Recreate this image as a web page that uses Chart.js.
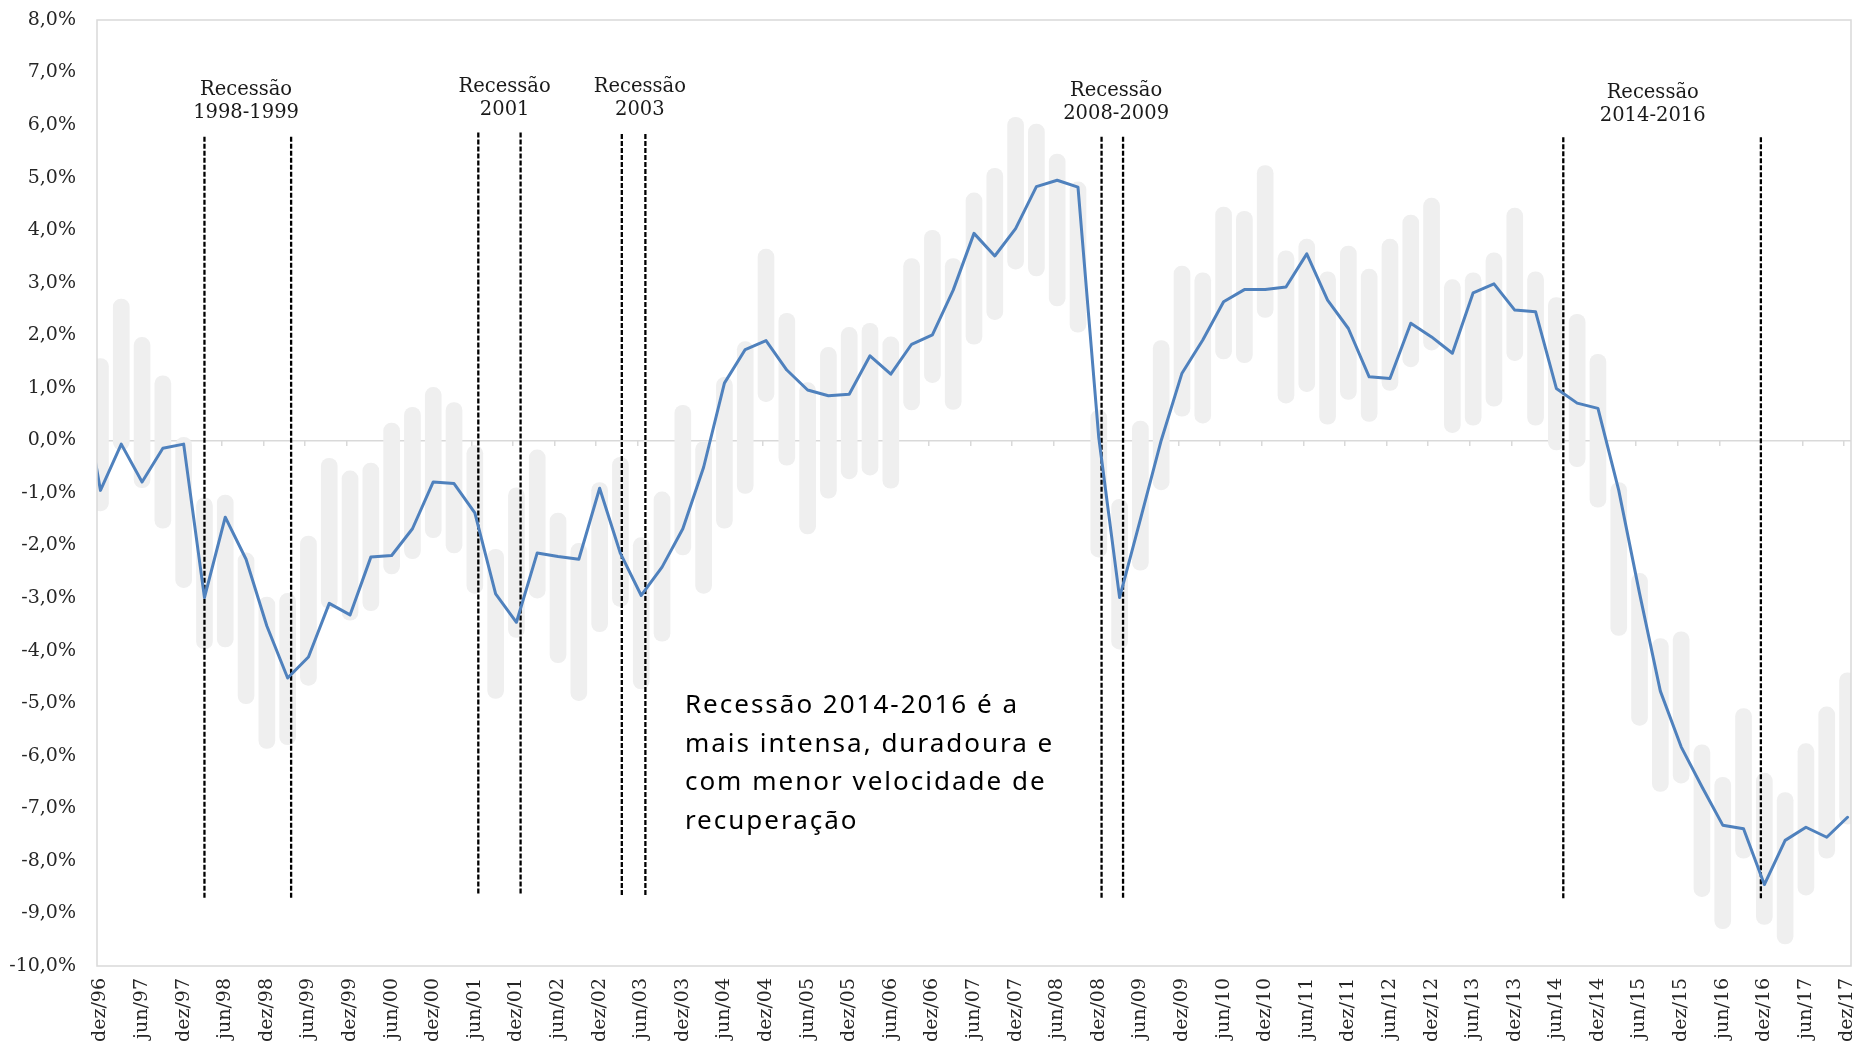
<!DOCTYPE html>
<html>
<head>
<meta charset="utf-8">
<script src="https://cdn.jsdelivr.net/npm/chart.js@4.4.1/dist/chart.umd.min.js"></script>
<style>
  html, body { margin: 0; padding: 0; background: #ffffff; }
  #wrap { width: 1858px; height: 1041px; position: relative; }
</style>
</head>
<body>
<div id="wrap"><canvas id="chart"></canvas></div>
<script>
// ---------------- DATA ----------------
// Quarterly observations (first one, set/96, lies just outside the axis and is clipped)
const quarters = [
  'set/96','dez/96',
  'mar/97','jun/97','set/97','dez/97',
  'mar/98','jun/98','set/98','dez/98',
  'mar/99','jun/99','set/99','dez/99',
  'mar/00','jun/00','set/00','dez/00',
  'mar/01','jun/01','set/01','dez/01',
  'mar/02','jun/02','set/02','dez/02',
  'mar/03','jun/03','set/03','dez/03',
  'mar/04','jun/04','set/04','dez/04',
  'mar/05','jun/05','set/05','dez/05',
  'mar/06','jun/06','set/06','dez/06',
  'mar/07','jun/07','set/07','dez/07',
  'mar/08','jun/08','set/08','dez/08',
  'mar/09','jun/09','set/09','dez/09',
  'mar/10','jun/10','set/10','dez/10',
  'mar/11','jun/11','set/11','dez/11',
  'mar/12','jun/12','set/12','dez/12',
  'mar/13','jun/13','set/13','dez/13',
  'mar/14','jun/14','set/14','dez/14',
  'mar/15','jun/15','set/15','dez/15',
  'mar/16','jun/16','set/16','dez/16',
  'mar/17','jun/17','set/17','dez/17'
];

// Blue line (%)
const lineValues = [
  1.30, -0.95,
  -0.07, -0.79, -0.15, -0.07,
  -2.99, -1.46, -2.26, -3.53,
  -4.52, -4.12, -3.10, -3.32,
  -2.22, -2.19, -1.68, -0.79,
  -0.82, -1.38, -2.92, -3.46,
  -2.14, -2.21, -2.26, -0.91,
  -2.15, -2.95, -2.41, -1.68,
  -0.51, 1.09, 1.73, 1.90,
  1.34, 0.96, 0.85, 0.88,
  1.61, 1.26, 1.83, 2.01,
  2.86, 3.94, 3.51, 4.03,
  4.83, 4.95, 4.82, 0.05,
  -2.99, -1.50, 0.00, 1.28,
  1.91, 2.64, 2.87, 2.87,
  2.92, 3.55, 2.67, 2.13,
  1.21, 1.18, 2.23, 1.97,
  1.66, 2.81, 2.98, 2.48,
  2.45, 0.99, 0.71, 0.61,
  -0.95, -2.91, -4.77, -5.83,
  -6.59, -7.32, -7.39, -8.45,
  -7.61, -7.36, -7.55, -7.17
];

// Grey range bars (%): upper and lower ends
const barHigh = [
  null, 1.56,
  2.69, 1.96, 1.23, 0.06,
  -1.09, -1.04, -2.14, -2.98,
  -2.91, -1.82, -0.34, -0.58,
  -0.43, 0.33, 0.63, 1.01,
  0.72, -0.10, -2.07, -0.90,
  -0.18, -1.38, -1.96, -0.80,
  -0.32, -1.85, -0.98, 0.67,
  -0.02, 1.20, 1.88, 3.64,
  2.42, 1.10, 1.77, 2.15,
  2.23, 1.97, 3.46, 4.00,
  3.46, 4.71, 5.18, 6.15,
  6.02, 5.45, 4.92, 0.58,
  -1.12, 0.37, 1.90, 3.32,
  3.19, 4.44, 4.36, 5.23,
  3.61, 3.83, 3.21, 3.70,
  3.26, 3.83, 4.29, 4.61,
  3.06, 3.19, 3.57, 4.42,
  3.21, 2.72, 2.40, 1.64,
  -0.80, -2.53, -3.77, -3.64,
  -5.79, -6.41, -5.10, -6.33,
  -6.70, -5.77, -5.07, -4.42
];
const barLow = [
  null, -1.34,
  -0.18, -0.90, -1.67, -2.80,
  -3.97, -3.93, -5.01, -5.86,
  -5.79, -4.66, -3.20, -3.42,
  -3.24, -2.54, -2.25, -1.85,
  -2.14, -2.91, -4.91, -3.75,
  -3.00, -4.23, -4.95, -3.64,
  -3.16, -4.73, -3.82, -2.18,
  -2.91, -1.67, -1.01, 0.74,
  -0.47, -1.78, -1.10, -0.73,
  -0.66, -0.91, 0.58, 1.10,
  0.59, 1.83, 2.30, 3.26,
  3.13, 2.56, 2.06, -2.22,
  -3.97, -2.47, -0.94, 0.46,
  0.33, 1.55, 1.48, 2.34,
  0.71, 0.93, 0.31, 0.78,
  0.36, 0.95, 1.40, 1.72,
  0.15, 0.29, 0.65, 1.52,
  0.29, -0.18, -0.50, -1.27,
  -3.71, -5.42, -6.68, -6.52,
  -8.68, -9.29, -7.95, -9.21,
  -9.58, -8.65, -7.95, -7.30
];

// Axis tick labels (every 6 months)
const tickLabels = [
  'dez/96','jun/97','dez/97','jun/98','dez/98','jun/99','dez/99','jun/00','dez/00',
  'jun/01','dez/01','jun/02','dez/02','jun/03','dez/03','jun/04','dez/04','jun/05',
  'dez/05','jun/06','dez/06','jun/07','dez/07','jun/08','dez/08','jun/09','dez/09',
  'jun/10','dez/10','jun/11','dez/11','jun/12','dez/12','jun/13','dez/13','jun/14',
  'dez/14','jun/15','dez/15','jun/16','dez/16','jun/17','dez/17'
];

// Recession boundary markers (months counted from dez/96) and their vertical extent (%)
const recessionMarks  = [15, 27.5, 54.5, 60.6, 75.2, 78.6, 144.4, 147.5, 211, 239.5];
const recessionTop    = [5.78, 5.78, 5.86, 5.86, 5.83, 5.83, 5.78, 5.78, 5.77, 5.77];
const recessionBottom = [-8.70, -8.70, -8.63, -8.63, -8.65, -8.65, -8.72, -8.72, -8.72, -8.72];

// Recession titles
const recessionTitles = [
  ['Recessão', '1998-1999'],
  ['Recessão', '2001'],
  ['Recessão', '2003'],
  ['Recessão', '2008-2009'],
  ['Recessão', '2014-2016']
];
const recessionTitleX = [21.0, 58.3, 77.8, 146.5, 223.9];   // months from dez/96
const recessionTitleY = [6.45, 6.50, 6.50, 6.43, 6.39];     // % (centre of the 2-line block)

const noteLines = [
  'Recessão 2014-2016 é a',
  'mais intensa, duradoura e',
  'com menor velocidade de',
  'recuperação'
];
const noteX = 84.3;   // months from dez/96 (left edge)
const noteY = -5.05;  // % (first line)

// ---------------- BUILD ----------------
const monthOf = (i) => 3 * (i - 1);   // quarters[1] = dez/96 = month 0

const linePoints = lineValues.map((v, i) => ({ x: monthOf(i), y: v }));
const barPoints = [];
barHigh.forEach((h, i) => {
  if (h !== null && barLow[i] !== null) barPoints.push({ x: monthOf(i), y: [barLow[i], h] });
});
const markPoints = [];
recessionMarks.forEach((m, i) => {
  markPoints.push({ x: m, y: recessionTop[i] });
  markPoints.push({ x: m, y: recessionBottom[i] });
  markPoints.push({ x: m, y: null });
});

const X_MIN = -0.5, X_MAX = 252.5;

const framePlugin = {
  id: 'frame',
  afterDatasetsDraw(chart) {
    const { ctx, chartArea: a } = chart;
    ctx.save();
    ctx.strokeStyle = '#d9d9d9';
    ctx.lineWidth = 1.5;
    ctx.strokeRect(a.left, a.top, a.right - a.left, a.bottom - a.top);
    ctx.restore();
  }
};

const annotPlugin = {
  id: 'annot',
  afterDatasetsDraw(chart) {
    const { ctx } = chart;
    const x = chart.scales.x, y = chart.scales.y;
    ctx.save();
    ctx.fillStyle = '#1a1a1a';
    ctx.font = '19.5px "DejaVu Serif"';
    ctx.textAlign = 'center';
    ctx.textBaseline = 'middle';
    recessionTitles.forEach((lines, i) => {
      const px = x.getPixelForValue(recessionTitleX[i]);
      const py = y.getPixelForValue(recessionTitleY[i]);
      ctx.fillText(lines[0], px, py - 11.5);
      ctx.fillText(lines[1], px, py + 11.5);
    });
    ctx.fillStyle = '#000000';
    ctx.font = '26px "Noto Sans"';
    try { ctx.letterSpacing = '2px'; } catch (e) {}
    ctx.textAlign = 'left';
    const nx = x.getPixelForValue(noteX);
    const ny = y.getPixelForValue(noteY);
    noteLines.forEach((t, i) => ctx.fillText(t, nx, ny + i * 38.5));
    try { ctx.letterSpacing = '0px'; } catch (e) {}
    ctx.restore();
  }
};

Chart.defaults.font.family = '"DejaVu Serif"';
Chart.defaults.color = '#262626';

new Chart(document.getElementById('chart'), {
  type: 'bar',
  data: {
    datasets: [
      {
        type: 'line',
        label: 'Série',
        data: linePoints,
        borderColor: '#4f81bd',
        borderWidth: 3,
        pointRadius: 0,
        tension: 0,
        borderJoinStyle: 'round',
        borderCapStyle: 'round',
        clip: 0,
        order: 0
      },
      {
        type: 'line',
        label: 'Recessões',
        data: markPoints,
        borderColor: '#000000',
        borderWidth: 2.3,
        borderDash: [5, 2],
        pointRadius: 0,
        spanGaps: false,
        order: 1
      },
      {
        type: 'bar',
        label: 'Intervalo',
        data: barPoints,
        backgroundColor: '#efefef',
        borderWidth: 0,
        borderRadius: 8,
        borderSkipped: false,
        barThickness: 16,
        clip: 0,
        order: 2
      }
    ]
  },
  options: {
    responsive: true,
    maintainAspectRatio: false,
    animation: false,
    devicePixelRatio: 1,
    layout: { padding: { top: 20, right: 7, bottom: 0, left: 0 } },
    plugins: { legend: { display: false }, tooltip: { enabled: false }, title: { display: false } },
    scales: {
      x: {
        type: 'linear',
        position: 'bottom',
        offset: false,
        min: X_MIN, max: X_MAX,
        bounds: 'data',
        grid: { display: false, drawTicks: false, offset: false },
        border: { display: false },
        afterBuildTicks: (scale) => { scale.ticks = tickLabels.map((_, i) => ({ value: i * 6 })); },
        afterFit: (scale) => { scale.height = 75; scale.paddingLeft = 0; scale.paddingRight = 0; },
        ticks: {
          autoSkip: false,
          maxRotation: 90, minRotation: 90,
          padding: 12,
          font: { size: 19, family: '"DejaVu Serif"' },
          color: '#262626',
          callback: (v, i) => tickLabels[i]
        }
      },
      x2: {
        type: 'linear',
        axis: 'x',
        position: { y: 0 },
        offset: false,
        min: X_MIN, max: X_MAX,
        bounds: 'data',
        grid: { display: true, offset: false, drawOnChartArea: false, drawTicks: true, tickLength: 6, color: '#d9d9d9', lineWidth: 1.5 },
        border: { display: false },
        ticks: { display: false },
        afterBuildTicks: (scale) => {
          const t = [];
          for (let j = 1; j < tickLabels.length; j++) t.push({ value: X_MIN + 6 * j });
          scale.ticks = t;
        },
        afterFit: (scale) => { scale.height = 0; scale.paddingLeft = 0; scale.paddingRight = 0; }
      },
      y: {
        type: 'linear',
        position: 'left',
        min: -10, max: 8,
        ticks: {
          stepSize: 1,
          padding: 21,
          font: { size: 19, family: '"DejaVu Serif"' },
          color: '#262626',
          callback: (v) => v.toFixed(1).replace('.', ',') + '%'
        },
        grid: {
          drawTicks: false,
          lineWidth: 1.5,
          color: (ctx) => (ctx.tick && ctx.tick.value === 0 ? '#d9d9d9' : 'rgba(0,0,0,0)')
        },
        border: { display: false },
        afterFit: (scale) => { scale.width = 97; scale.paddingTop = 0; scale.paddingBottom = 0; }
      }
    }
  },
  plugins: [framePlugin, annotPlugin]
});
</script>
</body>
</html>
